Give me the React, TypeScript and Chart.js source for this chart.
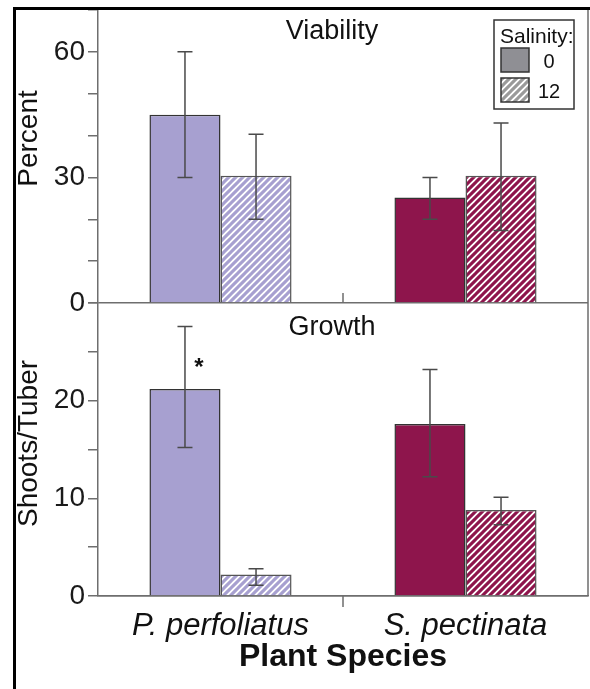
import { useEffect, useRef } from 'react';
import { Chart, registerables } from 'chart.js';

Chart.register(...registerables);

// ---------- data ----------
const categories = ['P. perfoliatus', 'S. pectinata'];
const salinityLevels = ['0', '12'];

const viability0 = [45, 25.2];
const viability0Low = [30, 20];
const viability0High = [60, 30];
const viability12 = [30.4, 30.4];
const viability12Low = [20, 17.3];
const viability12High = [40.3, 43];

const growth0 = [21.2, 17.6];
const growth0Low = [15.2, 12.2];
const growth0High = [27.6, 23.2];
const growth12 = [2.2, 8.8];
const growth12Low = [1.1, 7.3];
const growth12High = [2.8, 10.1];

const viabilityTickLabels = [0, 30, 60];
const growthTickLabels = [0, 10, 20];
const panelTitles = ['Viability', 'Growth'];
const axisTitles = ['Percent', 'Shoots/Tuber'];
const xAxisTitle = 'Plant Species';
const legendTitle = 'Salinity:';
const significanceMarks = [{ dataset: 2, index: 0, value: 22.6, text: '*' }];

// ---------- styles ----------
const FONT = "'Liberation Sans', Arial, Helvetica, sans-serif";
const AXIS = '#6e6e6e';
const speciesColors = ['#a7a0d0', '#8e154c'];
const legendGray = '#8f8f94';

function makeHatch(color: string): CanvasPattern {
  const p = 7;
  const c = document.createElement('canvas');
  c.width = p;
  c.height = p;
  const g = c.getContext('2d')!;
  g.fillStyle = '#ffffff';
  g.fillRect(0, 0, p, p);
  g.strokeStyle = color;
  g.lineWidth = 3.1;
  g.beginPath();
  for (let k = -1; k <= 1; k++) {
    g.moveTo(k * p - 1, p + 1);
    g.lineTo(k * p + p + 1, -1);
  }
  g.stroke();
  const ctx = document.createElement('canvas').getContext('2d')!;
  return ctx.createPattern(c, 'repeat')!;
}

export default function App() {
  const ref = useRef<HTMLCanvasElement | null>(null);

  useEffect(() => {
    if (!ref.current) return;
    const hatchP = makeHatch(speciesColors[0]);
    const hatchS = makeHatch(speciesColors[1]);
    const hatchGray = makeHatch('#9a9a9a');

    const errorBars: [number[], number[]][] = [
      [viability0Low, viability0High],
      [viability12Low, viability12High],
      [growth0Low, growth0High],
      [growth12Low, growth12High],
    ];

    const decor = {
      id: 'decor',
      afterDatasetsDraw(chart: any) {
        const ctx = chart.ctx as CanvasRenderingContext2D;
        ctx.save();
        ctx.strokeStyle = '#4a4a4a';
        ctx.lineWidth = 1.5;
        errorBars.forEach(([low, high], di) => {
          const meta = chart.getDatasetMeta(di);
          const ys = chart.scales[meta.yAxisID];
          meta.data.forEach((el: any, j: number) => {
            const x = el.x;
            const y1 = ys.getPixelForValue(low[j]);
            const y2 = ys.getPixelForValue(high[j]);
            const cap = 7.5;
            ctx.beginPath();
            ctx.moveTo(x, y1);
            ctx.lineTo(x, y2);
            ctx.moveTo(x - cap, y1);
            ctx.lineTo(x + cap, y1);
            ctx.moveTo(x - cap, y2);
            ctx.lineTo(x + cap, y2);
            ctx.stroke();
          });
        });
        // significance marks
        ctx.fillStyle = '#111';
        ctx.font = `bold 24px ${FONT}`;
        ctx.textAlign = 'center';
        ctx.textBaseline = 'alphabetic';
        significanceMarks.forEach((m) => {
          const meta = chart.getDatasetMeta(m.dataset);
          const ys = chart.scales[meta.yAxisID];
          const el = meta.data[m.index];
          ctx.fillText(m.text, el.x + 14, ys.getPixelForValue(m.value));
        });
        ctx.restore();
      },
      afterDraw(chart: any) {
        const ctx = chart.ctx as CanvasRenderingContext2D;
        const { left, right, top, bottom } = chart.chartArea;
        const xs = chart.scales.x;
        const yV = chart.scales.yV;
        const yG = chart.scales.yG;
        ctx.save();
        // right border of plot
        ctx.strokeStyle = AXIS;
        ctx.lineWidth = 1.5;
        ctx.beginPath();
        ctx.moveTo(right, top);
        ctx.lineTo(right, bottom);
        // category separator ticks
        const mid = (xs.getPixelForValue(0) + xs.getPixelForValue(1)) / 2;
        ctx.moveTo(mid, yV.bottom);
        ctx.lineTo(mid, yV.bottom - 10);
        ctx.moveTo(mid, yG.bottom);
        ctx.lineTo(mid, yG.bottom + 11);
        ctx.stroke();

        // panel titles
        ctx.fillStyle = '#111';
        ctx.font = `27px ${FONT}`;
        ctx.textAlign = 'center';
        ctx.textBaseline = 'alphabetic';
        const cx = (left + right) / 2 - 11;
        ctx.fillText(panelTitles[0], cx, yV.top + 29);
        ctx.fillText(panelTitles[1], cx, yG.top + 32);

        // y-axis titles
        ctx.font = `28px ${FONT}`;
        const drawRot = (t: string, x: number, y: number) => {
          ctx.save();
          ctx.translate(x, y);
          ctx.rotate(-Math.PI / 2);
          ctx.fillText(t, 0, 0);
          ctx.restore();
        };
        drawRot(axisTitles[0], 37, (yV.top + yV.bottom) / 2 - 18);
        drawRot(axisTitles[1], 37, (yG.top + yG.bottom) / 2 - 6);

        // legend
        const bx = right - 94;
        const by = top + 10;
        ctx.fillStyle = '#fff';
        ctx.fillRect(bx, by, 80, 89);
        ctx.strokeStyle = '#333';
        ctx.lineWidth = 1.5;
        ctx.strokeRect(bx, by, 80, 89);
        ctx.fillStyle = '#111';
        ctx.font = `21px ${FONT}`;
        ctx.textAlign = 'left';
        ctx.fillText(legendTitle, bx + 6, by + 23);
        ctx.font = `20px ${FONT}`;
        const fills = [legendGray, hatchGray];
        salinityLevels.forEach((lab, i) => {
          const sy = by + 28 + i * 30;
          ctx.fillStyle = fills[i] as any;
          ctx.fillRect(bx + 7, sy, 28, 24);
          ctx.strokeStyle = '#333';
          ctx.strokeRect(bx + 7, sy, 28, 24);
          ctx.fillStyle = '#111';
          ctx.textAlign = 'center';
          ctx.fillText(lab, bx + 55, sy + 20);
        });

        // outer frame
        ctx.fillStyle = '#000';
        ctx.fillRect(13, 7, chart.width - 13, 3);
        ctx.fillRect(13, 7, 3, chart.height - 7);
        ctx.restore();
      },
    };

    const yCommon = (labels: number[]) => ({
      type: 'linear' as const,
      position: 'left' as const,
      stack: 'panels',
      stackWeight: 1,
      stacked: false,
      min: 0,
      ticks: {
        autoSkip: false,
        padding: 3,
        color: '#1a1a1a',
        font: { family: FONT, size: 28 },
        callback: (v: any) => (labels.includes(Number(v)) ? String(v) : ''),
      },
      grid: {
        color: (c: any) => (c.tick && c.tick.value === 0 ? AXIS : 'rgba(0,0,0,0)'),
        tickColor: AXIS,
        tickLength: 10,
        lineWidth: 1.5,
        tickWidth: 1.5,
      },
      border: { color: AXIS, width: 1.5 },
      afterFit: (s: any) => {
        s.width = 85;
        s.paddingTop = 0;
        s.paddingBottom = 0;
      },
    });

    const yV: any = yCommon(viabilityTickLabels);
    yV.max = 70;
    yV.ticks.stepSize = 10;
    const yG: any = yCommon(growthTickLabels);
    yG.max = 30;
    yG.ticks.stepSize = 5;

    const barBase = {
      borderColor: '#333',
      borderWidth: 1.5,
      categoryPercentage: 0.58,
      barPercentage: 1,
    };

    const chart = new Chart(ref.current, {
      type: 'bar',
      data: {
        labels: categories,
        datasets: [
          { ...barBase, label: 'Viability 0', data: viability0, yAxisID: 'yV', stack: 's0', backgroundColor: speciesColors },
          { ...barBase, label: 'Viability 12', data: viability12, yAxisID: 'yV', stack: 's12', backgroundColor: [hatchP, hatchS] as any, borderColor: '#555' },
          { ...barBase, label: 'Growth 0', data: growth0, yAxisID: 'yG', stack: 's0', backgroundColor: speciesColors },
          { ...barBase, label: 'Growth 12', data: growth12, yAxisID: 'yG', stack: 's12', backgroundColor: [hatchP, hatchS] as any, borderColor: '#555' },
        ],
      },
      options: {
        responsive: false,
        animation: false,
        events: [],
        layout: { padding: { left: 13, top: 10, right: 2, bottom: 0 } },
        plugins: { legend: { display: false }, tooltip: { enabled: false }, title: { display: false } },
        scales: {
          x: {
            type: 'category',
            offset: true,
            grid: { display: false },
            border: { color: AXIS, width: 1.5 },
            ticks: {
              autoSkip: false,
              maxRotation: 0,
              padding: 4,
              color: '#111',
              font: { family: FONT, size: 31, style: 'italic' },
            },
            title: {
              display: true,
              text: xAxisTitle,
              color: '#111',
              font: { family: FONT, size: 32, weight: 'bold' },
              padding: { top: 0, bottom: 13 },
            },
            afterFit: (s: any) => {
              s.height = 93;
              s.paddingLeft = 0;
              s.paddingRight = 0;
            },
          },
          yG,
          yV,
        } as any,
      },
      plugins: [decor],
    });
    return () => chart.destroy();
  }, []);

  return (
    <div style={{ position: 'absolute', left: 0, top: 0, width: 590, height: 689, background: '#fff' }}>
      <canvas ref={ref} width={590} height={689} style={{ display: 'block' }} />
    </div>
  );
}
